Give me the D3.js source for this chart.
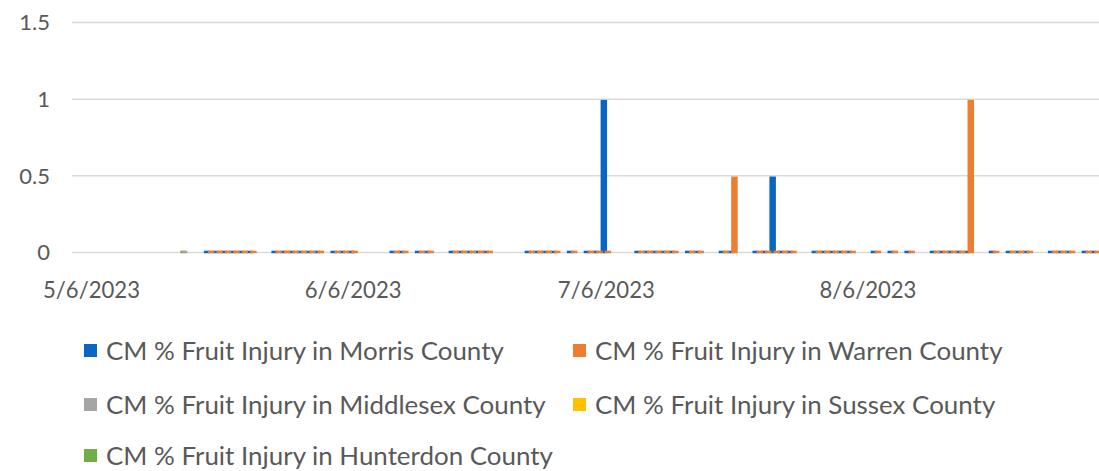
<!DOCTYPE html>
<html>
<head>
<meta charset="utf-8">
<script src="https://cdn.jsdelivr.net/npm/d3@7"></script>
<style>
  html, body { margin: 0; padding: 0; background: #ffffff; }
  svg { display: block; }
  text { font-family: Lato, "Open Sans", sans-serif; fill: #595959; }
</style>
</head>
<body>
<svg id="chart" width="1099" height="471"></svg>
<script>
// ---------- data ----------
const dates = [
  "2023-05-17",
  "2023-05-20","2023-05-21","2023-05-22","2023-05-23","2023-05-24","2023-05-25",
  "2023-05-28","2023-05-29","2023-05-30","2023-05-31","2023-06-01","2023-06-02",
  "2023-06-04","2023-06-05","2023-06-06",
  "2023-06-11","2023-06-12",
  "2023-06-14","2023-06-15",
  "2023-06-18","2023-06-19","2023-06-20","2023-06-21","2023-06-22",
  "2023-06-27","2023-06-28","2023-06-29","2023-06-30",
  "2023-07-02",
  "2023-07-04","2023-07-05","2023-07-06",
  "2023-07-10","2023-07-11","2023-07-12","2023-07-13","2023-07-14",
  "2023-07-16","2023-07-17",
  "2023-07-20","2023-07-21",
  "2023-07-24","2023-07-25","2023-07-26","2023-07-27","2023-07-28",
  "2023-07-31","2023-08-01","2023-08-02","2023-08-03","2023-08-04",
  "2023-08-07","2023-08-09","2023-08-11",
  "2023-08-14","2023-08-15","2023-08-16","2023-08-17","2023-08-18",
  "2023-08-21",
  "2023-08-23","2023-08-24","2023-08-25",
  "2023-08-28","2023-08-29","2023-08-30",
  "2023-09-01","2023-09-02"
];
const morris = [
  null,
  0,0,0,0,0,0,
  0,0,0,0,0,0,
  0,0,0,
  0,0,
  0,0,
  0,0,0,0,0,
  0,0,0,0,
  0,
  0,0,1,
  0,0,0,0,0,
  0,0,
  0,0,
  0,0,0.5,0,0,
  0,0,0,0,0,
  0,0,0,
  0,0,0,0,0,
  0,
  0,0,0,
  0,0,0,
  0,0
];
const warren = [
  null,
  0,0,0,0,0,0,
  0,0,0,0,0,0,
  0,0,0,
  0,0,
  0,0,
  0,0,0,0,0,
  0,0,0,0,
  0,
  0,0,0,
  0,0,0,0,0,
  0,0,
  0,0.5,
  0,0,0,0,0,
  0,0,0,0,0,
  0,0,0,
  0,0,0,0,1,
  0,
  0,0,0,
  0,0,0,
  0,0
];
const middlesex = [0].concat(new Array(dates.length - 1).fill(null));
const sussex = new Array(dates.length).fill(null);
const hunterdon = [0].concat(new Array(dates.length - 1).fill(null));

const seriesNames = [
  "CM % Fruit Injury in Morris County",
  "CM % Fruit Injury in Warren County",
  "CM % Fruit Injury in Middlesex County",
  "CM % Fruit Injury in Sussex County",
  "CM % Fruit Injury in Hunterdon County"
];
const seriesColors = ["#0b66c3", "#ed7d31", "#a5a5a5", "#ffc000", "#70ad47"];
const seriesValues = [morris, warren, middlesex, sussex, hunterdon];

const yTicks = [0, 0.5, 1, 1.5];
const yTickLabels = ["0", "0.5", "1", "1.5"];
const xTicks = ["2023-05-06", "2023-06-06", "2023-07-06", "2023-08-06"];
const xTickLabels = ["5/6/2023", "6/6/2023", "7/6/2023", "8/6/2023"];
const xDomain = ["2023-05-03T18:00:00Z", "2023-09-02T10:19:00Z"];

// ---------- layout ----------
const svg = d3.select("#chart");
const plot = { left: 72, right: 1099, top: 22, bottom: 252 };

const parse = d => new Date(d.length <= 10 ? d + "T00:00:00Z" : d);
const x = d3.scaleUtc().domain(xDomain.map(parse)).range([plot.left, plot.right]);
const y = d3.scaleLinear().domain([0, 1.5]).range([plot.bottom, plot.top]);

// series offset within a date slot
const offset = d3.scalePoint().domain([0, 1]).range([-2, 2]);

// gridlines
svg.append("g").selectAll("line").data(yTicks).join("line")
  .attr("x1", plot.left).attr("x2", plot.right)
  .attr("y1", d => y(d) + 0.5).attr("y2", d => y(d) + 0.5)
  .attr("stroke", "#d9d9d9").attr("stroke-width", 1.5);

// y axis labels
const yAxis = d3.axisLeft(y).tickValues(yTicks).tickFormat((d, i) => yTickLabels[i]).tickSize(0).tickPadding(0);
const yg = svg.append("g").attr("transform", `translate(50,0)`).call(yAxis);
yg.select(".domain").remove();
yg.selectAll("text").attr("font-size", 22).style("fill", "#595959").attr("dy", "0.35em")
  .style("font-family", "Lato, 'Open Sans', sans-serif");

// bars
const barsG = svg.append("g");
[4, 2, 3, 0, 1].forEach(s => {
  const vals = seriesValues[s];
  const recs = dates.map((d, i) => ({ d: parse(d), v: vals[i] })).filter(r => r.v !== null);
  const w = s < 2 ? 6.5 : 5;
  const off = s < 2 ? offset(s) : (s === 2 ? 1 : -1);
  barsG.append("g").selectAll("rect").data(recs).join("rect")
    .attr("x", r => x(r.d) + off - w / 2)
    .attr("width", w)
    .attr("y", r => {
      const h = Math.max(y(0) - y(r.v), 2.5);
      return y(0) - h + 1.2;
    })
    .attr("height", r => Math.max(y(0) - y(r.v), 2.5))
    .attr("fill", seriesColors[s]);
});

// x axis labels
const xAxis = d3.axisBottom(x).tickValues(xTicks.map(parse))
  .tickFormat((d, i) => xTickLabels[i]).tickSize(0).tickPadding(0);
const xg = svg.append("g").attr("transform", `translate(0,${plot.bottom})`).call(xAxis);
xg.select(".domain").remove();
xg.selectAll("text").attr("font-size", 23).attr("dy", 0).attr("y", 46)
  .style("fill", "#595959").style("font-family", "Lato, 'Open Sans', sans-serif");

// fit x labels width to ~97px
const xt = xg.select("text").node();
const xw = xt.getComputedTextLength();
const xfs = 23 * 97 / xw;
xg.selectAll("text").attr("font-size", xfs);

// legend
const legendPos = [
  { x: 84, y: 351 }, { x: 573, y: 351 },
  { x: 84, y: 405 }, { x: 573, y: 405 },
  { x: 84, y: 456 }
];
const lg = svg.append("g");
const items = lg.selectAll("g").data(seriesNames).join("g")
  .attr("transform", (d, i) => `translate(${legendPos[i].x},${legendPos[i].y})`);
items.append("rect").attr("x", 0).attr("y", -7).attr("width", 13).attr("height", 13)
  .attr("fill", (d, i) => seriesColors[i]);
const lt = items.append("text").attr("x", 22).attr("y", 0).attr("dy", "0.35em")
  .attr("font-size", 24).text(d => d);
const lw = lt.node().getComputedTextLength();
lt.attr("font-size", 24 * 398 / lw);
</script>
</body>
</html>
